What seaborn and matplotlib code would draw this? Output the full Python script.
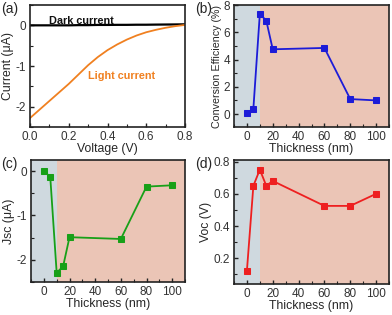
import numpy as np
import pandas as pd
import matplotlib
matplotlib.use("Agg")
import matplotlib.pyplot as plt
import seaborn as sns
from matplotlib.ticker import AutoMinorLocator

sns.set_theme(style="ticks")
plt.rcParams['font.family'] = ['Liberation Sans', 'DejaVu Sans']

# Data
voltage = [0.0, 0.05, 0.1, 0.15, 0.2, 0.25, 0.3, 0.35, 0.4, 0.45, 0.5, 0.55, 0.6, 0.65, 0.7, 0.75, 0.8]
light_current = [-2.28, -2.07, -1.86, -1.65, -1.44, -1.21, -0.98, -0.78, -0.61, -0.47, -0.35,
                 -0.25, -0.17, -0.11, -0.06, -0.02, 0.01]
dark_current = [0.0, 0.0, 0.0, 0.0, 0.0, 0.005, 0.005, 0.01, 0.01, 0.012, 0.012, 0.015, 0.015,
                0.018, 0.02, 0.022, 0.025]

thickness = [0, 5, 10, 15, 20, 60, 80, 100]
efficiency = [0.05, 0.4, 7.35, 6.85, 4.75, 4.85, 1.1, 1.0]
jsc = [0.0, -0.13, -2.29, -2.15, -1.49, -1.53, -0.35, -0.32]
voc = [0.123, 0.65, 0.75, 0.65, 0.68, 0.525, 0.525, 0.6]

blue_bg = '#cfd9df'
salmon_bg = '#ebc5b6'
tick_color = '#333333'
label_fs = 8.8

fig = plt.figure(figsize=(3.92, 3.15), dpi=100)
W, H = 392, 315

def add_ax(l, t, r, b):
    return fig.add_axes([l / W, 1 - b / H, (r - l) / W, (b - t) / H])

axa = add_ax(30, 5, 185, 127)
axb = add_ax(234, 5, 389, 127)
axc = add_ax(31, 160, 185, 282)
axd = add_ax(234, 160, 389, 284)

def style(ax):
    for s in ax.spines.values():
        s.set_linewidth(1.2)
        s.set_color('#222222')
    ax.tick_params(direction='in', length=3, width=1, labelsize=8.5, colors='#222222',
                   labelcolor=tick_color, pad=3)
    ax.tick_params(which='minor', direction='in', length=2, width=0.8, colors='#222222')
    ax.xaxis.set_minor_locator(AutoMinorLocator(2))
    ax.yaxis.set_minor_locator(AutoMinorLocator(2))

# (a)
sns.lineplot(x=voltage, y=dark_current, ax=axa, color='black', linewidth=1.6)
sns.lineplot(x=voltage, y=light_current, ax=axa, color='#f08020', linewidth=1.3)
axa.set_xlim(0, 0.8)
axa.set_ylim(-2.5, 0.5)
axa.set_xticks([0.0, 0.2, 0.4, 0.6, 0.8])
axa.set_xticklabels(['0.0', '0.2', '0.4', '0.6', '0.8'])
axa.set_yticks([-2, -1, 0])
axa.set_yticklabels(['-2', '-1', '0'])
axa.set_xlabel('Voltage (V)', fontsize=label_fs, labelpad=0)
axa.set_ylabel('Current (μA)', fontsize=label_fs, labelpad=1)
axa.text(0.1, 0.04, 'Dark current', fontsize=7.8, fontweight='bold', color='#111111')
axa.text(0.3, -1.24, 'Light current', fontsize=7.8, fontweight='bold', color='#f08020',
         va='center')
style(axa)

def thick_panel(ax, y, color, ylim, yticks, yticklabels, ylabel, yfs=label_fs):
    ax.axvspan(-10, 10, color=blue_bg, zorder=0, lw=0)
    ax.axvspan(10, 110, color=salmon_bg, zorder=0, lw=0)
    sns.lineplot(x=thickness, y=y, ax=ax, color=color, linewidth=1.3, marker='s',
                 markersize=5, markeredgecolor=color, markerfacecolor=color, zorder=3)
    ax.set_xlim(-10, 110)
    ax.set_ylim(*ylim)
    ax.set_xticks([0, 20, 40, 60, 80, 100])
    ax.set_yticks(yticks)
    ax.set_yticklabels(yticklabels)
    ax.set_xlabel('Thickness (nm)', fontsize=label_fs, labelpad=0)
    ax.set_ylabel(ylabel, fontsize=yfs, labelpad=1)
    style(ax)

thick_panel(axb, efficiency, '#1c1cd8', (-0.95, 8), [0, 2, 4, 6, 8],
            ['0', '2', '4', '6', '8'], 'Conversion Efficiency (%)', yfs=7.7)
thick_panel(axc, jsc, '#18a018', (-2.5, 0.25), [-2, -1, 0],
            ['-2', '-1', '0'], 'Jsc (μA)')
thick_panel(axd, voc, '#ee2020', (0.04, 0.81), [0.2, 0.4, 0.6, 0.8],
            ['0.2', '0.4', '0.6', '0.8'], 'Voc (V)')

for lab, x, y in [('(a)', 1, 2), ('(b)', 195, 2), ('(c)', 1, 157), ('(d)', 195, 157)]:
    fig.text(x / W, 1 - y / H, lab, fontsize=10, va='top', ha='left')

fig.savefig('out.png', dpi=100)
